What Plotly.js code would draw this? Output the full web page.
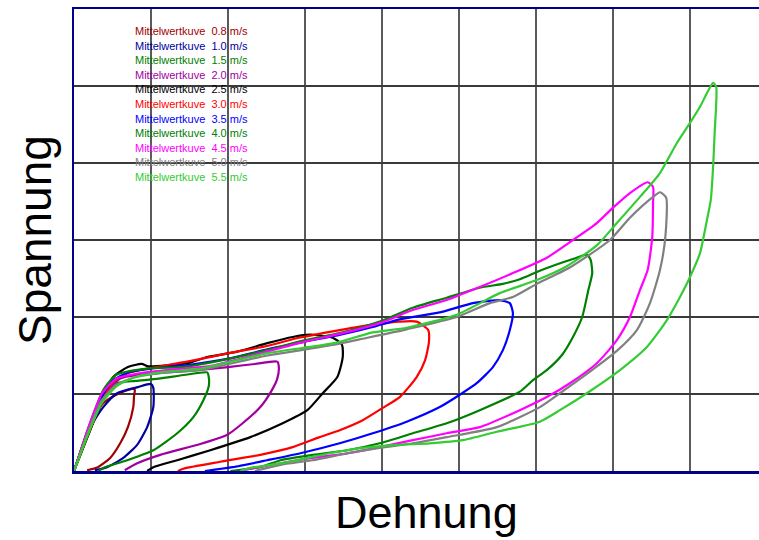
<!DOCTYPE html>
<html>
<head>
<meta charset="utf-8">
<script src="https://cdn.plot.ly/plotly-3.0.1.min.js"></script>
<style>html,body{margin:0;padding:0;background:#fff;}#chart{width:759px;height:540px;}</style>
</head>
<body>
<div id="chart"></div>
<script>
// Speeds (legend labels) and colours
const speeds = ["0.8", "1.0", "1.5", "2.0", "2.5", "3.0", "3.5", "4.0", "4.5", "5.0", "5.5"];
const colors = ["#a00000", "#0000a0", "#008000", "#a000a0", "#000000", "#ff0000", "#0000ff", "#008000", "#ff00ff", "#808080", "#33cc33"];

// Hysteresis loops (strain, stress) in grid units
const x08 = [0,0.21,0.36,0.51,0.66,0.77,0.79,0.78,0.77,0.70,0.60,0.47,0.31,0.17];
const y08 = [0,0.53,0.86,0.97,1.04,1.07,1.05,0.98,0.83,0.57,0.36,0.17,0.05,0.01];

const x10 = [0,0.2,0.38,0.56,0.83,1.0,1.03,1.03,0.95,0.82,0.64,0.43,0.27];
const y10 = [0,0.55,0.83,1.01,1.09,1.13,1.08,0.83,0.57,0.34,0.17,0.05,0.01];

const x15 = [0,0.2,0.38,0.55,0.8,1.1,1.45,1.73,1.75,1.75,1.68,1.55,1.34,1.03,0.69,0.38,0.32];
const y15 = [0,0.58,0.98,1.14,1.17,1.2,1.25,1.28,1.22,1.1,0.92,0.70,0.49,0.27,0.14,0.04,0];

const x20 = [0,0.2,0.38,0.6,0.85,1.2,1.6,2.0,2.35,2.64,2.66,2.64,2.57,2.42,2.19,1.99,1.64,1.12,0.82,0.66];
const y20 = [0,0.57,0.97,1.2,1.25,1.28,1.31,1.35,1.39,1.42,1.35,1.2,1.05,0.83,0.62,0.47,0.35,0.21,0.10,0.01];

const x25 = [0,0.21,0.36,0.51,0.70,0.88,0.96,1.47,1.73,2.12,2.51,2.84,3.06,3.36,3.48,3.49,3.42,3.23,3.03,2.71,2.29,1.77,1.34,1.03,0.95];
const y25 = [0,0.53,0.92,1.22,1.35,1.39,1.36,1.40,1.48,1.55,1.66,1.74,1.77,1.73,1.64,1.48,1.22,1.01,0.79,0.62,0.44,0.27,0.14,0.05,0];

const x30 = [0,0.21,0.36,0.5,0.7,0.95,1.47,2.06,2.49,2.92,3.23,3.45,3.88,4.23,4.45,4.60,4.61,4.56,4.45,4.23,4.01,3.75,3.45,3.19,2.84,2.42,1.90,1.42,1.35];
const y30 = [0,0.55,0.9,1.15,1.27,1.33,1.42,1.54,1.62,1.73,1.79,1.83,1.90,1.94,1.94,1.83,1.68,1.44,1.22,0.96,0.82,0.66,0.53,0.44,0.31,0.21,0.12,0.03,0];

const x35 = [0,0.2,0.35,0.5,0.7,1.0,1.5,2.06,2.51,3.0,3.46,3.88,4.23,4.75,5.18,5.40,5.53,5.66,5.70,5.66,5.57,5.44,5.23,5.01,4.75,4.32,3.88,3.45,2.94,2.51,2.06,1.70];
const y35 = [0,0.58,0.95,1.17,1.28,1.33,1.38,1.47,1.58,1.68,1.77,1.87,1.97,2.06,2.18,2.21,2.22,2.18,2.05,1.83,1.57,1.35,1.14,0.99,0.83,0.64,0.49,0.36,0.23,0.14,0.05,0];

const x40 = [0,0.2,0.38,0.55,0.95,1.4,1.73,2.5,3.0,3.45,3.97,4.40,4.84,5.27,5.57,5.79,6.05,6.35,6.53,6.66,6.71,6.73,6.68,6.60,6.48,6.34,6.14,5.96,5.79,5.27,4.84,4.40,3.97,3.55,3.10,2.68,2.42,2.03];
const y40 = [0,0.6,1.05,1.25,1.33,1.35,1.40,1.57,1.70,1.79,1.94,2.12,2.25,2.38,2.43,2.49,2.60,2.71,2.77,2.81,2.74,2.57,2.35,2.00,1.74,1.51,1.31,1.18,1.03,0.79,0.62,0.49,0.36,0.27,0.21,0.14,0.05,0];

const x45 = [0,0.2,0.36,0.55,0.8,1.2,1.8,2.5,3.0,3.45,3.97,4.40,4.84,5.27,5.70,6.14,6.48,6.79,7.0,7.22,7.45,7.52,7.52,7.51,7.45,7.35,7.22,7.05,6.79,6.44,6.14,5.79,5.27,4.84,4.40,3.97,3.55,3.10,2.68,2.29,2.16];
const y45 = [0,0.6,1.0,1.2,1.26,1.31,1.37,1.55,1.68,1.78,1.92,2.09,2.22,2.39,2.57,2.77,3.0,3.22,3.42,3.61,3.75,3.69,3.48,3.04,2.61,2.35,2.0,1.70,1.40,1.14,0.96,0.79,0.57,0.49,0.40,0.31,0.23,0.17,0.10,0.03,0];

const x50 = [0,0.2,0.36,0.55,0.8,1.2,1.64,2.51,3.38,3.71,4.32,4.97,5.40,5.70,6.01,6.45,6.96,7.22,7.52,7.61,7.69,7.68,7.61,7.48,7.31,7.05,6.74,6.31,6.05,5.49,4.84,4.40,3.97,3.55,3.10,2.68,2.35];
const y50 = [0,0.55,0.92,1.12,1.22,1.28,1.31,1.50,1.64,1.71,1.84,2.0,2.18,2.26,2.43,2.65,3.0,3.29,3.56,3.62,3.55,3.04,2.61,2.18,1.83,1.56,1.32,1.01,0.83,0.57,0.44,0.36,0.30,0.23,0.14,0.08,0];

const x55 = [0,0.2,0.36,0.55,0.8,1.2,1.64,2.51,3.38,3.88,4.32,4.97,5.53,6.01,6.40,6.79,7.05,7.35,7.61,7.83,8.0,8.13,8.30,8.34,8.32,8.30,8.27,8.22,8.13,8.0,7.87,7.70,7.44,7.09,6.66,6.31,6.05,5.49,5.05,4.62,4.19,3.75,3.32,2.90,2.68,2.29,2.16];
const y55 = [0,0.52,0.88,1.1,1.22,1.29,1.33,1.53,1.66,1.80,1.86,2.03,2.31,2.48,2.66,2.93,3.22,3.56,3.87,4.26,4.52,4.73,5.04,4.99,4.39,3.95,3.52,3.26,2.83,2.52,2.26,1.96,1.61,1.31,1.01,0.79,0.64,0.51,0.40,0.36,0.34,0.30,0.23,0.14,0.10,0.04,0];

const xs = [x08, x10, x15, x20, x25, x30, x35, x40, x45, x50, x55];
const ys = [y08, y10, y15, y20, y25, y30, y35, y40, y45, y50, y55];

const traces = xs.map((x, i) => ({
  type: "scatter", mode: "lines", x: x, y: ys[i],
  line: {color: colors[i], width: 2.2, shape: "spline", smoothing: 0.6},
  name: "Mittelwertkuve " + speeds[i] + " m/s", hoverinfo: "skip"
}));

const font = "Liberation Sans, Arial, sans-serif";
const annotations = speeds.map((s, i) => ({
  xref: "paper", yref: "paper", x: 0.086, y: 0.9525 - i * 0.0316,
  xanchor: "left", yanchor: "middle", showarrow: false,
  text: "Mittelwertkuve\u00a0\u00a0" + s + " m/s",
  font: {family: font, size: 11, color: colors[i]}
}));
annotations.push({
  xref: "paper", yref: "paper", x: 0.514, y: -0.09, xanchor: "center", yanchor: "middle",
  showarrow: false, text: "Dehnung", font: {family: font, size: 45, color: "#000"}
});
annotations.push({
  xref: "paper", yref: "paper", x: -0.057, y: 0.5, xanchor: "center", yanchor: "middle",
  showarrow: false, textangle: -90, text: "Spannung", font: {family: font, size: 46, color: "#000"}
});

const layout = {
  width: 759, height: 540,
  margin: {l: 74, r: 0, t: 9, b: 69, pad: 0},
  paper_bgcolor: "#fff", plot_bgcolor: "#fff",
  showlegend: false,
  xaxis: {range: [0, 685 / 77], tick0: 0, dtick: 1, showticklabels: false, ticks: "",
          showgrid: true, gridcolor: "#5a5a5a", gridwidth: 1.5, zeroline: false,
          showline: true, linecolor: "#00008c", linewidth: 2.5, mirror: true, fixedrange: true},
  yaxis: {range: [0, 6], tick0: 0, dtick: 1, showticklabels: false, ticks: "",
          showgrid: true, gridcolor: "#3a3a3a", gridwidth: 1.5, zeroline: false,
          showline: true, linecolor: "#00008c", linewidth: 2.5, mirror: false, fixedrange: true},
  annotations: annotations
};

Plotly.newPlot("chart", traces, layout, {staticPlot: true, displayModeBar: false});
</script>
</body>
</html>
